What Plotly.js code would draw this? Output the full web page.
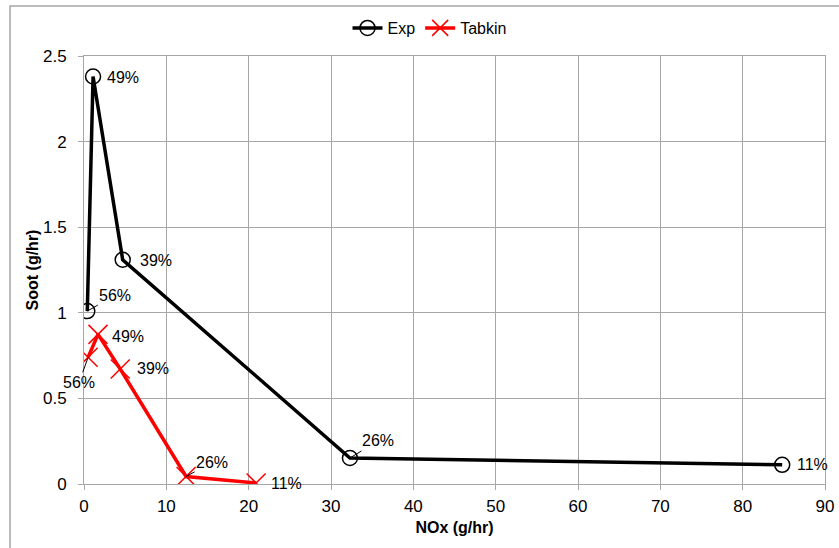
<!DOCTYPE html>
<html>
<head>
<meta charset="utf-8">
<script src="https://cdn.plot.ly/plotly-3.0.1.min.js"></script>
<style>html,body{margin:0;padding:0;background:#fff;}#chart{width:839px;height:548px;}</style>
</head>
<body>
<div id="chart"></div>
<script>
// Data
const expNOx = [0.4, 1.1, 4.7, 32.3, 84.8];
const expSoot = [1.01, 2.38, 1.31, 0.152, 0.112];
const expLabels = ["56%", "49%", "39%", "26%", "11%"];

const tabNOx = [0.5, 1.7, 4.4, 12.4, 20.9];
const tabSoot = [0.74, 0.874, 0.672, 0.044, 0.006];
const tabLabels = ["56%", "49%", "39%", "26%", "11%"];

const xTicks = [0, 10, 20, 30, 40, 50, 60, 70, 80, 90];
const yTicks = [0, 0.5, 1, 1.5, 2, 2.5];

// label offsets (pixels) and whether a leader line is drawn
const expOffsets = [[28, -16, true], [30, 1, false], [33, 1, false], [28, -17, true], [30, 0, false]];
const tabOffsets = [[-9, 25, true], [30, 2, false], [33, 0, false], [26, -14, true], [30, 1, false]];

const font = "Liberation Sans, Arial, sans-serif";

const traces = [
  {x: expNOx, y: expSoot, name: "Exp", type: "scatter", mode: "lines+markers",
   line: {color: "#000000", width: 3.5},
   marker: {symbol: "circle-open", size: 15, color: "#000000", line: {width: 1.5, color: "#000000"}}},
  {x: tabNOx, y: tabSoot, name: "Tabkin", type: "scatter", mode: "lines+markers",
   line: {color: "#ff0000", width: 3.5},
   marker: {symbol: "x-thin-open", size: 19, color: "#ff0000", line: {width: 1.5, color: "#ff0000"}}}
];

const annotations = [];
function addLabels(xs, ys, labels, offs) {
  for (let i = 0; i < xs.length; i++) {
    const o = offs[i];
    annotations.push({
      x: xs[i], y: ys[i], xref: "x", yref: "y", text: labels[i],
      showarrow: true, arrowhead: 0, arrowwidth: 1, arrowcolor: o[2] ? "#000000" : "rgba(0,0,0,0)",
      ax: o[0], ay: o[1], standoff: 0,
      font: {family: font, size: 16, color: "#000000"}
    });
  }
}
addLabels(expNOx, expSoot, expLabels, expOffsets);
addLabels(tabNOx, tabSoot, tabLabels, tabOffsets);

const layout = {
  width: 839, height: 548,
  margin: {l: 84, r: 14, t: 55, b: 64},
  paper_bgcolor: "#ffffff", plot_bgcolor: "#ffffff",
  font: {family: font, size: 16, color: "#000000"},
  showlegend: true,
  legend: {orientation: "h", x: 0.5 - 25 / 741, xanchor: "center", y: 1 + 27 / 429, yanchor: "middle",
           font: {family: font, size: 16}, itemwidth: 30, tracegroupgap: 0},
  xaxis: {range: [0, 90], tickvals: xTicks, ticktext: xTicks.map(String),
          showgrid: true, gridcolor: "#a6a6a6", gridwidth: 1,
          showline: true, linecolor: "#a6a6a6", linewidth: 1, mirror: true,
          ticks: "outside", ticklen: 5, tickcolor: "#a6a6a6", zeroline: false,
          tickfont: {family: font, size: 17}, ticklabelstandoff: 2,
          title: {text: "<b>NOx (g/hr)</b>", font: {family: font, size: 16}, standoff: 6}},
  yaxis: {range: [0, 2.5], tickvals: yTicks, ticktext: yTicks.map(String),
          showgrid: true, gridcolor: "#a6a6a6", gridwidth: 1,
          showline: true, linecolor: "#a6a6a6", linewidth: 1, mirror: true,
          ticks: "outside", ticklen: 5, tickcolor: "#a6a6a6", zeroline: false,
          tickfont: {family: font, size: 17}, ticklabelstandoff: 8,
          title: {text: "<b>Soot (g/hr)</b>", font: {family: font, size: 16}, standoff: 0}},
  annotations: annotations,
  shapes: [{type: "rect", xref: "paper", yref: "paper",
            x0: -74 / 741, x1: 1.1, y0: -0.3, y1: 1 + 50 / 429,
            line: {color: "#a6a6a6", width: 1.5}, fillcolor: "rgba(0,0,0,0)", layer: "below"}]
};

Plotly.newPlot("chart", traces, layout, {displayModeBar: false, staticPlot: true});
</script>
</body>
</html>
